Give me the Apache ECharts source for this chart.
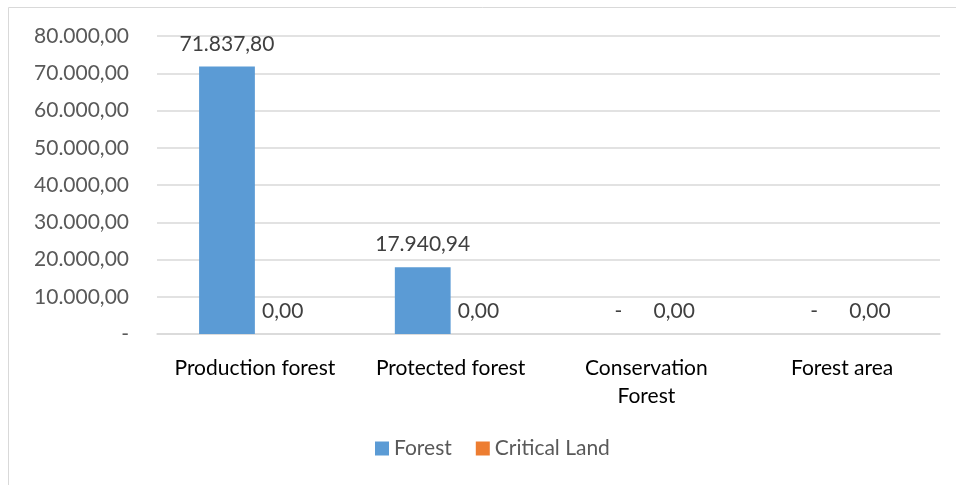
<!DOCTYPE html>
<html lang="en">
  <head>
    <meta charset="UTF-8" />
    <title>Forest vs Critical Land</title>
    <script src="https://cdn.jsdelivr.net/npm/echarts@6.0.0/dist/echarts.min.js"></script>
    <style>
      html, body { margin: 0; padding: 0; background: #fff; }
      #main { width: 956px; height: 485px; }
    </style>
  </head>
  <body>
    <div id="main"></div>
    <script>
      const categories = ["Production forest", "Protected forest", "Conservation\nForest", "Forest area"];
      const forest = [71837.8, 17940.94, 0, 0];
      const criticalLand = [0, 0, 0, 0];
      const seriesNames = ["Forest", "Critical Land"];

      const font = "Lato, 'Open Sans', sans-serif";
      const fs = 21;

      // Indonesian-style number format: 71.837,80
      function fmt(v) {
        const parts = v.toFixed(2).split(".");
        parts[0] = parts[0].replace(/\B(?=(\d{3})+(?!\d))/g, ".");
        return parts.join(",");
      }

      const chart = echarts.init(document.getElementById("main"));
      chart.setOption({
        animation: false,
        textStyle: { fontFamily: font },
        color: ["#5B9BD5", "#ED7D31"],
        graphic: [
          {
            type: "rect",
            shape: { x: 8.5, y: 7.5, width: 1000, height: 1000 },
            style: { fill: "none", stroke: "#d9d9d9", lineWidth: 1 },
            silent: true,
          },
        ],
        grid: { left: 157, right: 16, top: 36, bottom: 151 },
        legend: {
          bottom: 21,
          left: 370,
          itemWidth: 14,
          itemHeight: 14,
          itemGap: 24,
          itemStyle: { borderWidth: 0 },
          icon: "rect",
          textStyle: { color: "#595959", fontSize: fs, fontFamily: font },
          data: seriesNames,
        },
        xAxis: {
          type: "category",
          data: categories,
          axisLine: { lineStyle: { color: "#d9d9d9", width: 1.5 } },
          axisTick: { show: false },
          axisLabel: {
            color: "#000",
            fontSize: fs,
            margin: 20,
            lineHeight: 28,
            interval: 0,
            fontFamily: font,
          },
        },
        yAxis: {
          type: "value",
          min: 0,
          max: 80000,
          interval: 10000,
          axisLine: { show: false },
          axisTick: { show: false },
          splitLine: { lineStyle: { color: "#d9d9d9", width: 1.5 } },
          axisLabel: {
            color: "#595959",
            fontSize: fs,
            margin: 28,
            fontFamily: font,
            formatter: (v) => (v === 0 ? "-" : fmt(v)),
          },
        },
        series: [
          {
            name: seriesNames[0],
            type: "bar",
            data: forest,
            barGap: "0%",
            barCategoryGap: "43%",
            label: {
              show: true,
              position: "top",
              distance: 12,
              color: "#404040",
              fontSize: fs,
              fontFamily: font,
              formatter: (p) => (p.value === 0 ? "-" : fmt(p.value)),
            },
          },
          {
            name: seriesNames[1],
            type: "bar",
            data: criticalLand,
            label: {
              show: true,
              position: "top",
              distance: 12,
              color: "#404040",
              fontSize: fs,
              fontFamily: font,
              formatter: (p) => fmt(p.value),
            },
          },
        ],
      });
    </script>
  </body>
</html>
